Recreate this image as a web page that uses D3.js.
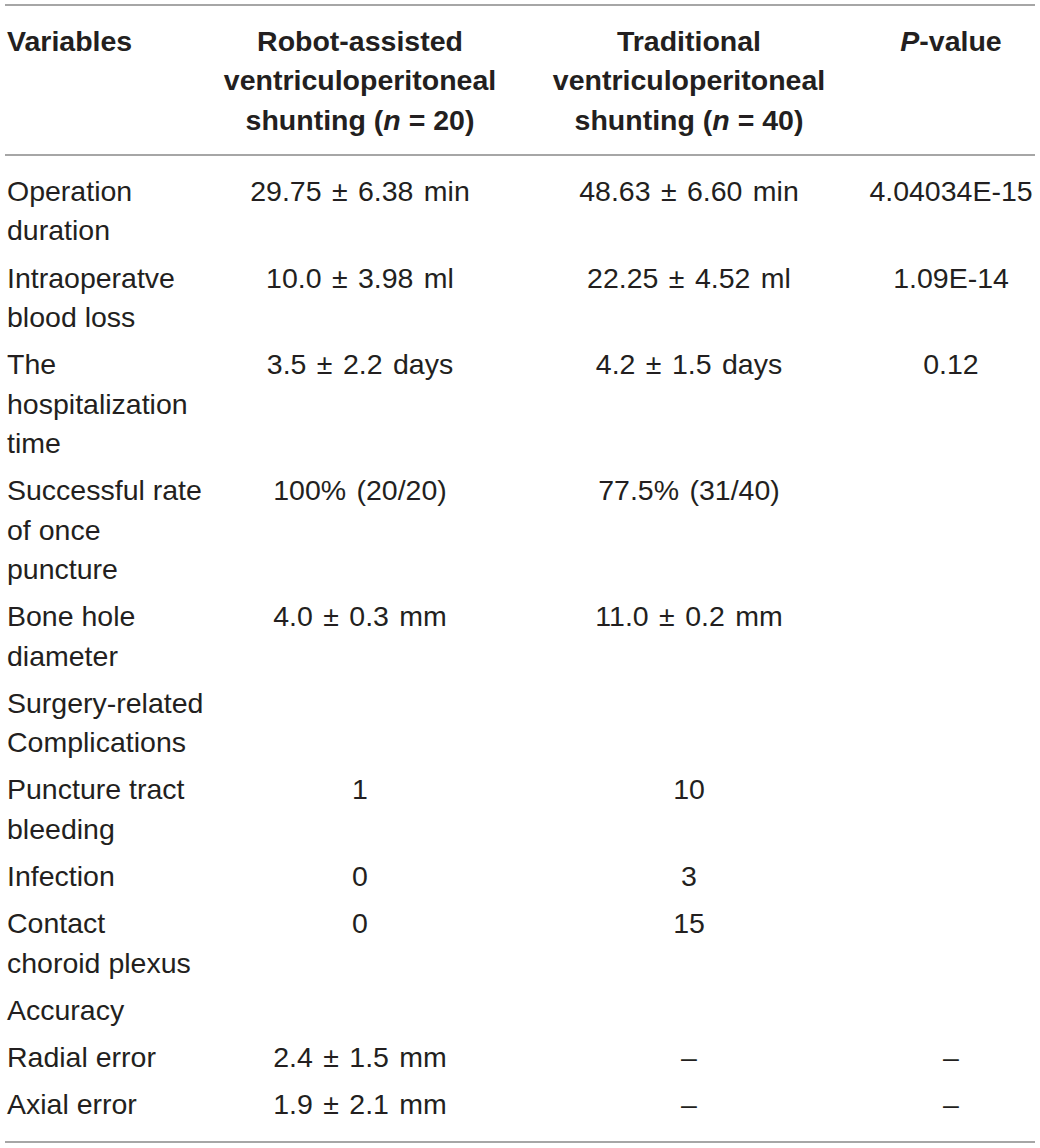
<!DOCTYPE html>
<html>
<head>
<meta charset="utf-8">
<script src="https://cdn.jsdelivr.net/npm/d3@7"></script>
<style>
  html, body { margin: 0; padding: 0; background: #fff; }
  svg text { font-family: "Liberation Sans", Arial, Helvetica, sans-serif; fill: #231f20; }
</style>
</head>
<body>
<svg id="table" width="1040" height="1148"></svg>
<script>
// column headers, one array of lines per column ("*" marks italic pieces)
const headers = [
    [["Variables"]],
    [["Robot-assisted"], ["ventriculoperitoneal"], ["shunting (", "*n", " = 20)"]],
    [["Traditional"], ["ventriculoperitoneal"], ["shunting (", "*n", " = 40)"]],
    [["*P", "-value"]],
];

// row labels as printed (line breaks kept)
const variables = [
    ["Operation", "duration"],
    ["Intraoperatve", "blood loss"],
    ["The", "hospitalization", "time"],
    ["Successful rate", "of once", "puncture"],
    ["Bone hole", "diameter"],
    ["Surgery-related", "Complications"],
    ["Puncture tract", "bleeding"],
    ["Infection"],
    ["Contact", "choroid plexus"],
    ["Accuracy"],
    ["Radial error"],
    ["Axial error"],
];

const robotAssisted = [
    "29.75 \u00b1 6.38 min", "10.0 \u00b1 3.98 ml", "3.5 \u00b1 2.2 days", "100% (20/20)",
    "4.0 \u00b1 0.3 mm", "", "1", "0", "0", "", "2.4 \u00b1 1.5 mm", "1.9 \u00b1 2.1 mm",
];

const traditional = [
    "48.63 \u00b1 6.60 min", "22.25 \u00b1 4.52 ml", "4.2 \u00b1 1.5 days", "77.5% (31/40)",
    "11.0 \u00b1 0.2 mm", "", "10", "3", "15", "", "\u2013", "\u2013",
];

const pValues = [
    "4.04034E-15", "1.09E-14", "0.12", "", "", "", "", "", "", "", "\u2013", "\u2013",
];

const svg = d3.select('#table');
const fontSize = 28.5;
const lineH = 39.4;
const rowGap = 7.8;

// column anchors: first column left aligned, the rest centred
const colX = d3.scaleOrdinal()
    .domain([0, 1, 2, 3])
    .range([7, 360, 689, 951]);
const colAnchor = (i) => i === 0 ? 'start' : 'middle';

// rules
const rules = [5, 155, 1142];
svg.append('g')
    .selectAll('line')
    .data(rules)
    .join('line')
    .attr('x1', 5)
    .attr('x2', 1035)
    .attr('y1', d => d)
    .attr('y2', d => d)
    .attr('stroke', '#a6a6a6')
    .attr('stroke-width', 2);

// header
const headerY = d3.scaleLinear().domain([0, 1]).range([51, 51 + lineH]);
const head = svg.append('g').attr('font-weight', 'bold').attr('font-size', fontSize);
headers.forEach((lines, c) => {
    lines.forEach((parts, li) => {
        const t = head.append('text')
            .attr('x', colX(c))
            .attr('y', headerY(li))
            .attr('text-anchor', colAnchor(c));
        t.selectAll('tspan')
            .data(parts)
            .join('tspan')
            .attr('font-style', d => d.startsWith('*') ? 'italic' : null)
            .text(d => d.startsWith('*') ? d.slice(1) : d);
    });
});

// body rows: work out the first line index of each row
let acc = 0;
const rowStart = variables.map((lines) => {
    const s = acc;
    acc += lines.length;
    return s;
});
const bodyY = d3.scaleLinear().domain([0, 1]).range([201, 201 + lineH]);
const rowY = (r, li) => bodyY(rowStart[r] + li) + r * rowGap;

const body = svg.append('g').attr('font-size', fontSize);

variables.forEach((lines, r) => {
    lines.forEach((txt, li) => {
        body.append('text')
            .attr('x', colX(0))
            .attr('y', rowY(r, li))
            .text(txt);
    });
});

[robotAssisted, traditional, pValues].forEach((col, ci) => {
    body.append('g')
        .attr('word-spacing', 2.5)
        .selectAll('text')
        .data(col)
        .join('text')
        .attr('x', colX(ci + 1))
        .attr('y', (d, r) => rowY(r, 0))
        .attr('text-anchor', 'middle')
        .text(d => d);
});
</script>
</body>
</html>
